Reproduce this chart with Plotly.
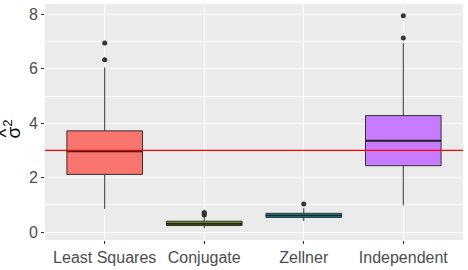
import plotly.graph_objects as go

categories = ["Least Squares", "Conjugate", "Zellner", "Independent"]
colors = ["#F8766D", "#7CAE00", "#00BFC4", "#C77CFF"]
q1 = [2.12, 0.24, 0.54, 2.44]
median = [2.97, 0.31, 0.61, 3.36]
q3 = [3.72, 0.40, 0.69, 4.28]
lower = [0.85, 0.14, 0.40, 0.98]
upper = [6.05, 0.55, 0.88, 6.95]
outliers = [[6.33, 6.95], [0.63, 0.68, 0.72], [1.03], [7.13, 7.95]]
true_value = 3.0
box_width = 0.76

fig = go.Figure()
for i, c in enumerate(categories):
    x = i + 1
    fig.add_trace(go.Box(
        x=[x], q1=[q1[i]], median=[median[i]], q3=[q3[i]],
        lowerfence=[lower[i]], upperfence=[upper[i]],
        width=box_width, fillcolor=colors[i],
        line=dict(color="#333333", width=1),
        boxpoints=False, showlegend=False, hoverinfo="skip",
        whiskerwidth=0,
    ))
    fig.add_trace(go.Scatter(
        x=[x - box_width / 2, x + box_width / 2], y=[median[i], median[i]],
        mode="lines", line=dict(color="#222222", width=2),
        showlegend=False, hoverinfo="skip",
    ))
    fig.add_trace(go.Scatter(
        x=[x] * len(outliers[i]), y=outliers[i], mode="markers",
        marker=dict(color="#333333", size=5),
        showlegend=False, hoverinfo="skip",
    ))

fig.add_shape(type="line", xref="paper", x0=0, x1=1, yref="y", y0=true_value, y1=true_value,
              line=dict(color="#FF0000", width=1.2))

# y-axis title: sigma-hat squared, rotated
fig.add_annotation(xref="paper", yref="paper", x=-0.078, y=0.47, xanchor="center", yanchor="middle",
                   text="σ<sup>2</sup>", textangle=-90, showarrow=False,
                   font=dict(size=19, color="black", family="Liberation Sans, Arial, sans-serif"))
fig.add_annotation(xref="paper", yref="paper", x=-0.095, y=0.452, xanchor="center", yanchor="middle",
                   text="^", textangle=-90, showarrow=False,
                   font=dict(size=19, color="black", family="Liberation Sans, Arial, sans-serif"))

fig.update_layout(
    width=468, height=270,
    margin=dict(l=45, r=5, t=4, b=24),
    plot_bgcolor="#EBEBEB", paper_bgcolor="white",
    font=dict(family="Liberation Sans, Arial, sans-serif", color="#4D4D4D"),
    xaxis=dict(
        range=[0.4, 4.6], tickvals=[1, 2, 3, 4], ticktext=categories,
        showgrid=True, gridcolor="white", gridwidth=1.1, zeroline=False,
        ticks="outside", ticklen=3, tickcolor="#333333",
        tickfont=dict(size=16, color="#4D4D4D"),
    ),
    yaxis=dict(
        range=[-0.29, 8.38], tick0=0, dtick=2,
        showgrid=True, gridcolor="white", gridwidth=1.1, zeroline=False,
        minor=dict(dtick=1, tick0=0, showgrid=True, gridcolor="white", gridwidth=0.5),
        ticks="outside", ticklen=3, tickcolor="#333333",
        tickfont=dict(size=16, color="#4D4D4D"),
    ),
)

fig.write_html("out.html")
